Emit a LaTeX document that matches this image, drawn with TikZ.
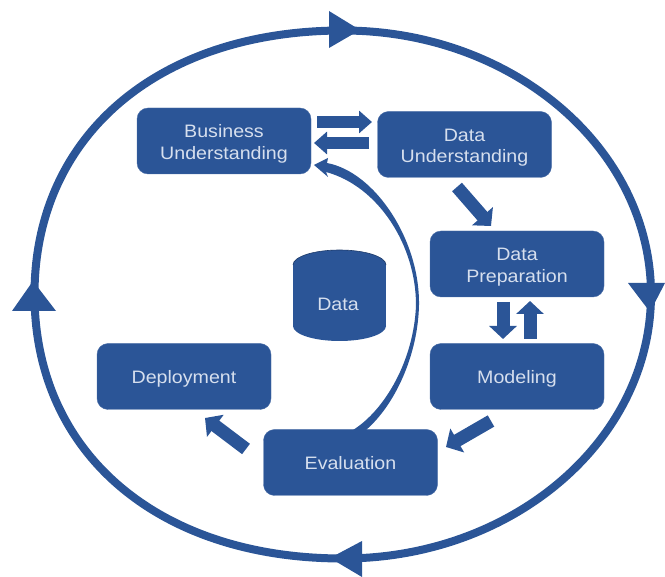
\documentclass[tikz,border=0pt]{standalone}
\usepackage{fontspec}
\setmainfont[FakeStretch=1.09]{Liberation Sans}
\usetikzlibrary{arrows.meta}
\definecolor{crispblue}{HTML}{2B5597}
\definecolor{crisptext}{HTML}{D6DFEE}
\newcommand{\phasetext}[1]{\raisebox{-3pt}[\height][\depth]{\begin{tabular}{@{}c@{}}#1\end{tabular}}}
\tikzset{
  phase/.style={draw=crispblue!85!white,fill=crispblue,rounded corners=11pt,minimum width=174pt,minimum height=66pt,inner sep=0pt,text=crisptext,font=\fontsize{18}{21.5}\selectfont},
  blockarrow/.style={draw=crispblue,line width=13pt,-{Triangle[width=27pt,length=13pt]}},
  flatarrow/.style={draw=crispblue,line width=11.5pt,-{Triangle[width=22pt,length=13pt]}},
  ring/.style={draw=crispblue,line width=8pt},
  ringhead/.style={fill=crispblue,draw=none},
}
\begin{document}
\begin{tikzpicture}[x=1pt,y=-1pt]
\useasboundingbox (0,0) rectangle (665,577);
% outer ring
\draw[ring] (343,30.5) .. controls (513,30.5) and (651,148.7) .. (651,294.5)
  .. controls (651,440.3) and (513,558.5) .. (343,558.5)
  .. controls (158,558.5) and (34.5,453) .. (34.5,294.5)
  .. controls (34.5,136) and (158,30.5) .. (343,30.5) -- cycle;
\fill[ringhead] (329,11) -- (360,30) -- (329,48) -- cycle;
\fill[ringhead] (628,283) -- (665,283) -- (650,312) -- cycle;
\fill[ringhead] (362,541) -- (362,577) -- (330,558) -- cycle;
\fill[ringhead] (12,311) -- (56,311) -- (33,281) -- cycle;
% phases
\node[phase] (biz) at (224,141) {\phasetext{Business\\Understanding}};
\node[phase] (und) at (464.5,144.5) {\phasetext{Data\\Understanding}};
\node[phase] (prep) at (517,264) {\phasetext{Data\\Preparation}};
\node[phase] (model) at (517,376.5) {\phasetext{Modeling}};
\node[phase] (deploy) at (184,376.5) {\phasetext{Deployment}};
\node[phase] (eval) at (350.5,462.5) {\phasetext{Evaluation}};
% data store
\fill[crispblue] (339.5,265) ellipse [x radius=46.5,y radius=15];
\fill[crispblue] (339.5,326) ellipse [x radius=46.5,y radius=15];
\fill[crispblue] (293,265) rectangle (386,326);
\draw[crispblue!70!black,line width=.6pt] (293,265) arc [start angle=180,end angle=360,x radius=46.5,y radius=15];
\node[text=crisptext,font=\fontsize{18}{24}\selectfont] (data) at (338,304) {Data};
% free ends of the block arrows
\coordinate (a1) at (317,122); \coordinate (b1) at (372,122);
\coordinate (a2) at (369,143); \coordinate (b2) at (314,143);
\coordinate (a3) at (457,187); \coordinate (b3) at (491,226);
\coordinate (a4) at (503,302); \coordinate (b4) at (503,339);
\coordinate (a5) at (530,339); \coordinate (b5) at (530,301);
\coordinate (a6) at (491,421); \coordinate (b6) at (446,447);
\coordinate (a7) at (246,449); \coordinate (b7) at (205,418);
\draw[flatarrow] (a1) -- (b1);
\draw[flatarrow] (a2) -- (b2);
\draw[blockarrow] (a3) -- (b3);
\draw[blockarrow] (a4) -- (b4);
\draw[blockarrow] (a5) -- (b5);
\draw[blockarrow] (a6) -- (b6);
\draw[blockarrow] (a7) -- (b7);
% tapered return arrow from Evaluation to Business Understanding
\coordinate (ret0) at (353,430);
\coordinate (ret1) at (366,430);
\coordinate (rettip) at (314,165);
\fill[crispblue] (ret0) .. controls (385,410) and (414,360) .. (416,305)
  .. controls (416,245) and (378,186) .. (326,172)
  -- (328,177) -- (rettip) -- (328,158) -- (327,163)
  .. controls (375,172) and (420,240) .. (419,305)
  .. controls (418,355) and (395,405) .. (ret1) -- cycle;
\end{tikzpicture}
\end{document}
